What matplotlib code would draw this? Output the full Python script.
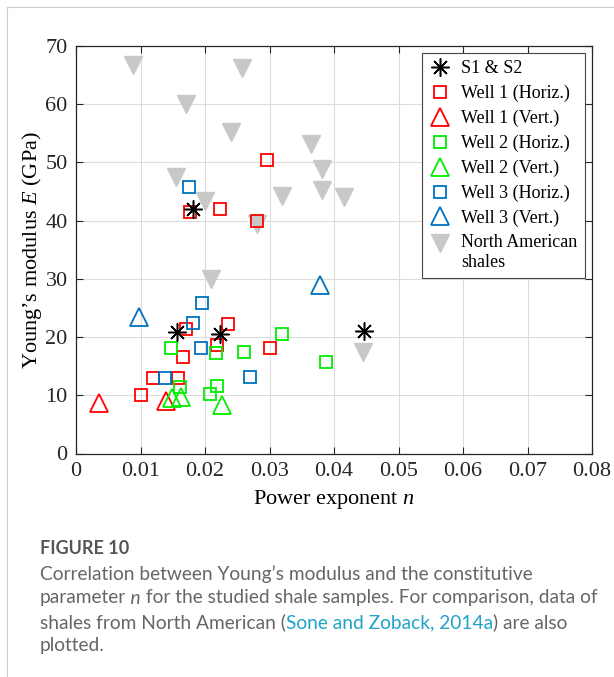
import matplotlib
matplotlib.use("Agg")
import matplotlib.pyplot as plt
from matplotlib.lines import Line2D
from matplotlib.transforms import Affine2D

plt.rcParams["mathtext.fontset"] = "custom"
plt.rcParams["mathtext.it"] = "Liberation Serif:italic"
plt.rcParams["mathtext.rm"] = "Liberation Serif"

# ---------------- data ----------------
s12_n = [0.0182, 0.0156, 0.0224, 0.0446]
s12_E = [42.0, 20.9, 20.6, 21.0]

w1h_n = [0.0296, 0.0223, 0.0177, 0.0280, 0.0171, 0.0236, 0.0218, 0.0300, 0.0166, 0.0120, 0.0158, 0.0101]
w1h_E = [50.4, 42.0, 41.4, 39.9, 21.4, 22.2, 18.6, 18.2, 16.6, 12.9, 13.0, 10.0]

w1v_n = [0.0035, 0.0139]
w1v_E = [8.6, 9.0]

w2h_n = [0.0320, 0.0217, 0.0147, 0.0260, 0.0387, 0.0161, 0.0219, 0.0207]
w2h_E = [20.6, 17.3, 18.1, 17.4, 15.7, 11.4, 11.6, 10.2]

w2v_n = [0.0149, 0.0163, 0.0226]
w2v_E = [9.5, 9.7, 8.3]

w3h_n = [0.0175, 0.0196, 0.0182, 0.0194, 0.0269, 0.0138]
w3h_E = [45.8, 25.9, 22.5, 18.1, 13.2, 12.9]

w3v_n = [0.0379, 0.0097]
w3v_E = [29.0, 23.5]

na_n = [0.0089, 0.0258, 0.0170, 0.0240, 0.0364, 0.0381, 0.0155, 0.0319, 0.0382,
        0.0415, 0.0200, 0.0280, 0.0210, 0.0445]
na_E = [66.8, 66.2, 60.1, 55.2, 53.2, 48.9, 47.5, 44.3, 45.2, 44.0, 43.3, 39.4, 29.9, 17.4]

x_ticks = [0, 0.01, 0.02, 0.03, 0.04, 0.05, 0.06, 0.07, 0.08]
x_ticklabels = ["0", "0.01", "0.02", "0.03", "0.04", "0.05", "0.06", "0.07", "0.08"]
y_ticks = [0, 10, 20, 30, 40, 50, 60, 70]

labels = ["S1 & S2", "Well 1 (Horiz.)", "Well 1 (Vert.)", "Well 2 (Horiz.)",
          "Well 2 (Vert.)", "Well 3 (Horiz.)", "Well 3 (Vert.)", "North American\nshales"]

# ---------------- style ----------------
RED = "#FF0000"
GREEN = "#00EE00"
BLUE = "#0072BD"
GRAY = "#C8C8C8"
SERIF = ["Liberation Serif", "DejaVu Serif"]

fig = plt.figure(figsize=(6.14, 6.77), dpi=100)
ax = fig.add_axes([76 / 614, 1 - 453.5 / 677, (592 - 76) / 614, (453.5 - 46) / 677])

sq = dict(linestyle="none", marker="s", markersize=9, markerfacecolor="none", markeredgewidth=1.3)
tri = dict(linestyle="none", marker="^", markersize=13, markerfacecolor="none", markeredgewidth=1.3)

h_na, = ax.plot(na_n, na_E, linestyle="none", marker="v", markersize=13,
                color=GRAY, markeredgecolor=GRAY, zorder=2, label=labels[7])
h_s, = ax.plot(s12_n, s12_E, linestyle="none", marker=(8, 2, 0), markersize=13,
               color="black", markeredgewidth=1.1, zorder=5, label=labels[0])
h1h, = ax.plot(w1h_n, w1h_E, markeredgecolor=RED, zorder=3, label=labels[1], **sq)
h1v, = ax.plot(w1v_n, w1v_E, markeredgecolor=RED, zorder=3, label=labels[2], **tri)
h2h, = ax.plot(w2h_n, w2h_E, markeredgecolor=GREEN, zorder=3, label=labels[3], **sq)
h2v, = ax.plot(w2v_n, w2v_E, markeredgecolor=GREEN, zorder=3, label=labels[4], **tri)
h3h, = ax.plot(w3h_n, w3h_E, markeredgecolor=BLUE, zorder=3, label=labels[5], **sq)
h3v, = ax.plot(w3v_n, w3v_E, markeredgecolor=BLUE, zorder=3, label=labels[6], **tri)

ax.set_xlim(0, 0.08)
ax.set_ylim(0, 70)
ax.set_xticks(x_ticks)
ax.set_xticklabels(x_ticklabels, family=SERIF, fontsize=16)
ax.set_yticks(y_ticks)
ax.set_yticklabels([str(v) for v in y_ticks], family=SERIF, fontsize=16)
ax.tick_params(direction="in", top=True, right=True, length=5, width=0.8, pad=6, colors="#262626")
ax.grid(True, color="#DCDCDC", linewidth=0.8)
ax.set_axisbelow(True)
for sp in ax.spines.values():
    sp.set_color("#262626")
    sp.set_linewidth(0.9)

ax.set_xlabel("Power exponent $\\it{n}$", family=SERIF, fontsize=16, labelpad=5)
ax.set_ylabel("Young’s modulus $\\it{E}$ (GPa)", family=SERIF, fontsize=16, labelpad=1)

handles = [h_s, h1h, h1v, h2h, h2v, h3h, h3v, h_na]
leg = ax.legend(handles=handles, labels=labels, loc="upper right",
                prop={"family": SERIF, "size": 13}, fancybox=False, framealpha=1,
                edgecolor="#444444", borderaxespad=0.4, labelspacing=0.42,
                handletextpad=0.6, handlelength=1.2, borderpad=0.4)
leg.get_frame().set_linewidth(0.8)
# align the last marker with the first line of its two-line label
lh = leg.legend_handles[-1]
lh.set_transform(lh.get_transform() + Affine2D().translate(0, 10))

# ---------------- caption ----------------
CAP = ["Lato", "DejaVu Sans"]
cap_color = "#666666"
link_color = "#1FA3C8"
fs = 13.8
x0 = 40 / 614
fig.text(x0, 1 - 549 / 677, "FIGURE 10", family=CAP, fontsize=13, weight="bold",
         color="#555555", va="center")
fig.text(x0, 1 - 574 / 677, "Correlation between Young’s modulus and the constitutive",
         family=CAP, fontsize=fs, color=cap_color, va="center")
t = fig.text(x0, 1 - 598 / 677, "parameter", family=CAP, fontsize=fs, color=cap_color, va="center")
t = plt.annotate(" n", xy=(1, 0), xycoords=t, va="bottom", ha="left",
                 family=CAP, fontsize=fs, color=cap_color, style="italic", annotation_clip=False)
plt.annotate(" for the studied shale samples. For comparison, data of", xy=(1, 0), xycoords=t,
             va="bottom", ha="left", family=CAP, fontsize=fs, color=cap_color, annotation_clip=False)
t = fig.text(x0, 1 - 622 / 677, "shales from North American (", family=CAP, fontsize=fs,
             color=cap_color, va="center")
t = plt.annotate("Sone and Zoback, 2014a", xy=(1, 0), xycoords=t, va="bottom", ha="left",
                 family=CAP, fontsize=fs, color=link_color, annotation_clip=False)
plt.annotate(") are also", xy=(1, 0), xycoords=t, va="bottom", ha="left",
             family=CAP, fontsize=fs, color=cap_color, annotation_clip=False)
fig.text(x0, 1 - 646 / 677, "plotted.", family=CAP, fontsize=fs, color=cap_color, va="center")

# panel border lines
fig.add_artist(Line2D([7 / 614, 7 / 614], [0, 1 - 7 / 677], color="#CCCCCC", linewidth=0.8))
fig.add_artist(Line2D([7 / 614, 1], [1 - 7 / 677, 1 - 7 / 677], color="#CCCCCC", linewidth=0.8))

fig.savefig("out.png", dpi=100)
